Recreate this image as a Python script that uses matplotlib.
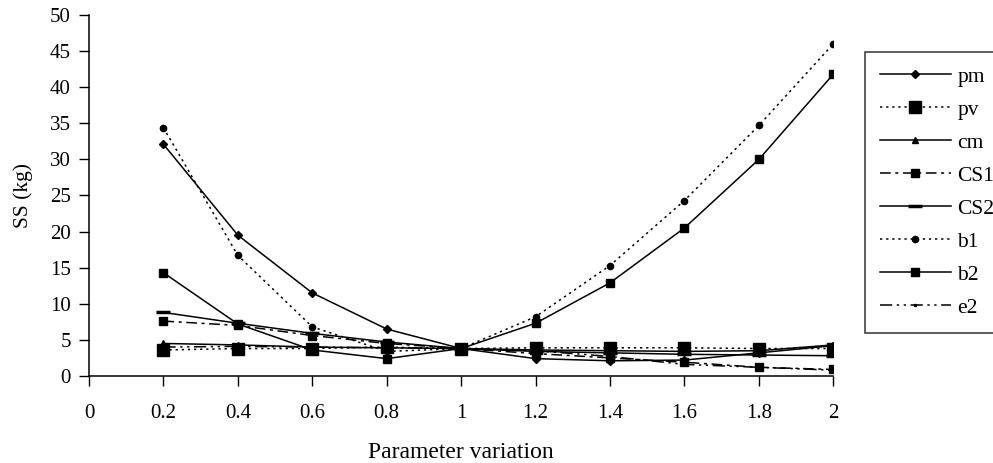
import matplotlib
matplotlib.use("Agg")
import matplotlib.pyplot as plt

# Parameter variation (x) and SS (kg) for each parameter
x = [0.2, 0.4, 0.6, 0.8, 1.0, 1.2, 1.4, 1.6, 1.8, 2.0]
pm = [32.1, 19.5, 11.5, 6.5, 3.8, 2.4, 2.1, 2.2, 3.2, 4.2]
pv = [3.6, 3.8, 3.8, 4.0, 3.8, 3.9, 3.9, 3.9, 3.8, 3.8]
cm = [4.5, 4.3, 4.0, 3.9, 3.8, 3.6, 3.5, 3.4, 3.5, 4.3]
cs1 = [7.6, 7.0, 5.6, 4.5, 3.8, 3.1, 2.5, 1.9, 1.2, 0.9]
cs2 = [8.8, 7.3, 5.9, 4.7, 3.8, 3.4, 3.2, 3.0, 2.9, 2.8]
b1 = [34.4, 16.7, 6.8, 3.4, 3.8, 8.2, 15.3, 24.3, 34.7, 46.0]
b2 = [14.3, 7.2, 3.6, 2.4, 3.8, 7.3, 12.9, 20.5, 30.0, 41.8]
e2 = [4.0, 4.1, 4.0, 3.9, 3.8, 3.5, 2.7, 1.6, 1.2, 0.8]

plt.rcParams['font.family'] = ['Liberation Serif', 'DejaVu Serif']
plt.rcParams['font.size'] = 15

fig = plt.figure(figsize=(9.93, 4.63), dpi=100)
ax = fig.add_axes([0.0896, 0.188, 0.7496, 0.7796])

k = dict(color='black', lw=1.1)
ax.plot(x, pm, ls='-', marker='D', ms=4, label='pm', **k)
ax.plot(x, pv, ls=(0, (1.5, 2.5)), marker='s', ms=9, label='pv', **k)
ax.plot(x, cm, ls='-', marker='^', ms=5, label='cm', **k)
ax.plot(x, cs1, ls=(0, (7, 3, 2, 3)), marker='s', ms=6, label='CS1', **k)
ax.plot(x, cs2, ls='-', marker='_', ms=10, mew=2.5, label='CS2', **k)
ax.plot(x, b1, ls=(0, (1.5, 2.5)), marker='o', ms=4.5, label='b1', **k)
ax.plot(x, b2, ls='-', marker='s', ms=6, label='b2', **k)
ax.plot(x, e2, ls=(0, (8, 3, 1.5, 3, 1.5, 3)), marker='.', ms=3, label='e2', **k)

ax.set_xlim(0, 2)
ax.set_ylim(0, 50)
ax.set_xticks([0, 0.2, 0.4, 0.6, 0.8, 1, 1.2, 1.4, 1.6, 1.8, 2])
ax.set_xticklabels(['0', '0.2', '0.4', '0.6', '0.8', '1', '1.2', '1.4', '1.6', '1.8', '2'])
ax.set_yticks(range(0, 51, 5))
ax.tick_params(direction='out', length=7, width=1, pad=13, labelsize=15)
ax.tick_params(axis='y', pad=6)
ax.spines['top'].set_visible(False)
ax.spines['right'].set_visible(False)
for s in ('left', 'bottom'):
    ax.spines[s].set_linewidth(1.1)

ax.set_xlabel('Parameter variation', fontsize=17, labelpad=14)
ax.set_ylabel('SS (kg)', fontsize=15.5, labelpad=12)

# legend sits partly outside the figure, as in the original
leg = fig.legend(loc='upper left', bbox_to_anchor=(0.871, 0.888),
                 bbox_transform=fig.transFigure, frameon=True, fancybox=False,
                 edgecolor='black', fontsize=15.5, handlelength=3.3,
                 handletextpad=0.3, labelspacing=0.6, borderpad=0.7,
                 borderaxespad=0)
leg.get_frame().set_linewidth(1.1)

fig.savefig('out.png', dpi=100)
